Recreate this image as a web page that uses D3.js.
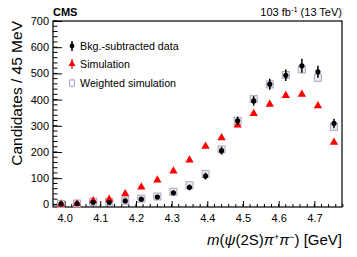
<!DOCTYPE html>
<html>
<head>
<meta charset="utf-8">
<script src="https://cdn.jsdelivr.net/npm/d3@7"></script>
<style>
  body { margin: 0; background: #fff; }
  svg { font-family: "Liberation Sans", Arial, sans-serif; }
</style>
</head>
<body>
<svg id="chart" width="357" height="257"></svg>
<script>
// --- data ---
const massBins = [3.99, 4.035, 4.08, 4.125, 4.17, 4.215, 4.26, 4.305, 4.35, 4.395, 4.44, 4.485, 4.53, 4.575, 4.62, 4.665, 4.71, 4.755];
const dataValues = [2, 3, 8, 8, 13, 20, 28, 44, 65, 108, 205, 319, 395, 459, 493, 529, 506, 309];
const dataErrors = [4, 4, 5, 5, 6, 7, 8, 9, 11, 13, 15, 16, 18, 21, 22, 27, 23, 18];
const simValues = [0, 2, 14, 19, 40, 66, 93, 127, 169, 222, 254, 303, 347, 382, 415, 420, 376, 237];
const weightedValues = [2, 3, 10, 10, 14, 22, 30, 48, 73, 116, 210, 319, 402, 458, 494, 515, 483, 296];
const xTicks = [4.0, 4.1, 4.2, 4.3, 4.4, 4.5, 4.6, 4.7];
const yTicks = [0, 100, 200, 300, 400, 500, 600, 700];
const legendLabels = ["Bkg.-subtracted data", "Simulation", "Weighted simulation"];

const svg = d3.select("#chart");
const frame = { left: 53, right: 342, top: 21, bottom: 207 };

const x = d3.scaleLinear().domain([3.9675, 4.7775]).range([frame.left, frame.right]);
const y = d3.scaleLinear().domain([-10, 700]).range([frame.bottom, frame.top]);

// minor ticks
const xMinor = d3.range(3.98, 4.78, 0.02);
const yMinor = d3.range(0, 701, 20);

const g = svg.append("g");

// bottom axis (ticks pointing inward)
const xAxis = g.append("g").attr("transform", `translate(0,${frame.bottom})`);
xAxis.selectAll("line.minor").data(xMinor).join("line")
  .attr("x1", d => x(d)).attr("x2", d => x(d))
  .attr("y1", 0).attr("y2", -3)
  .attr("stroke", "#000").attr("stroke-width", 1);
xAxis.call(d3.axisBottom(x).tickValues(xTicks).tickSizeInner(-6).tickSizeOuter(0).tickFormat(d3.format(".1f")))
  .call(a => a.select(".domain").remove())
  .call(a => a.selectAll("text").attr("y", 7).attr("dy", "0.71em")
    .attr("font-size", 11).attr("font-family", "Liberation Sans, Arial, sans-serif").attr("fill", "#000"));

// left axis
const yAxis = g.append("g").attr("transform", `translate(${frame.left},0)`);
yAxis.selectAll("line.minor").data(yMinor).join("line")
  .attr("x1", 0).attr("x2", 4.5)
  .attr("y1", d => y(d)).attr("y2", d => y(d))
  .attr("stroke", "#000").attr("stroke-width", 1);
yAxis.call(d3.axisLeft(y).tickValues(yTicks).tickSizeInner(-9).tickSizeOuter(0))
  .call(a => a.select(".domain").remove())
  .call(a => a.selectAll("text").attr("x", -4)
    .attr("font-size", 11).attr("font-family", "Liberation Sans, Arial, sans-serif").attr("fill", "#000"));

// frame
g.append("rect")
  .attr("x", frame.left).attr("y", frame.top)
  .attr("width", frame.right - frame.left).attr("height", frame.bottom - frame.top)
  .attr("fill", "none").attr("stroke", "#000").attr("stroke-width", 1.2);

const tri = d3.symbol().type(d3.symbolTriangle).size(30);

// weighted simulation squares
g.selectAll("rect.wsim").data(weightedValues).join("rect")
  .attr("x", (d, i) => x(massBins[i]) - 3.5).attr("y", d => y(d) - 3.5)
  .attr("width", 7).attr("height", 7)
  .attr("fill", "#ececf4").attr("stroke", "#a8a8c4").attr("stroke-width", 1);

// simulation triangles
g.selectAll("path.sim").data(simValues).join("path")
  .attr("d", tri)
  .attr("transform", (d, i) => `translate(${x(massBins[i])},${y(d)})`)
  .attr("fill", "#f00");

// data points with error bars
g.selectAll("line.err").data(dataValues).join("line")
  .attr("x1", (d, i) => x(massBins[i])).attr("x2", (d, i) => x(massBins[i]))
  .attr("y1", (d, i) => y(d - dataErrors[i])).attr("y2", (d, i) => y(d + dataErrors[i]))
  .attr("stroke", "#000").attr("stroke-width", 1.5);
g.selectAll("circle.dat").data(dataValues).join("circle")
  .attr("cx", (d, i) => x(massBins[i])).attr("cy", d => y(d))
  .attr("r", 2.6).attr("fill", "#000");

// legend
const legend = svg.append("g").attr("font-size", 10.7);
const rows = [46, 64, 83];
const lx = 72;
legend.append("line").attr("x1", lx).attr("x2", lx).attr("y1", rows[0] - 5).attr("y2", rows[0] + 5)
  .attr("stroke", "#000").attr("stroke-width", 1.5);
legend.append("circle").attr("cx", lx).attr("cy", rows[0]).attr("r", 2.4).attr("fill", "#000");
legend.append("line").attr("x1", lx).attr("x2", lx).attr("y1", rows[1] - 5).attr("y2", rows[1] + 5)
  .attr("stroke", "#f00").attr("stroke-width", 1.2);
legend.append("path").attr("d", d3.symbol().type(d3.symbolTriangle).size(22))
  .attr("transform", `translate(${lx},${rows[1]})`).attr("fill", "#f00");
legend.append("line").attr("x1", lx).attr("x2", lx).attr("y1", rows[2] - 5).attr("y2", rows[2] + 5)
  .attr("stroke", "#b8b8d4").attr("stroke-width", 1);
legend.append("rect").attr("x", lx - 2.5).attr("y", rows[2] - 3).attr("width", 5).attr("height", 6)
  .attr("fill", "#fff").attr("stroke", "#a8a8c4").attr("stroke-width", 1);
legend.selectAll("text").data(legendLabels).join("text")
  .attr("x", 80).attr("y", (d, i) => rows[i]).attr("dy", "0.35em")
  .text(d => d);

// titles
svg.append("text").attr("x", 53).attr("y", 16)
  .attr("font-size", 11).attr("font-weight", "bold").text("CMS");
const lumi = svg.append("text").attr("x", 342).attr("y", 16).attr("text-anchor", "end").attr("font-size", 11);
lumi.append("tspan").text("103 fb");
lumi.append("tspan").attr("dy", -4).attr("font-size", 7.5).text("-1");
lumi.append("tspan").attr("dy", 4).text(" (13 TeV)");

svg.append("text")
  .attr("transform", `translate(22,${frame.top}) rotate(-90)`)
  .attr("text-anchor", "end").attr("font-size", 15.5)
  .text("Candidates / 45 MeV");

const xt = svg.append("text").attr("x", 342).attr("y", 245).attr("text-anchor", "end").attr("font-size", 15);
xt.append("tspan").attr("font-style", "italic").text("m");
xt.append("tspan").text("(");
xt.append("tspan").attr("font-style", "italic").text("ψ");
xt.append("tspan").text("(2S)");
xt.append("tspan").attr("font-style", "italic").text("π");
xt.append("tspan").attr("dy", -5).attr("font-size", 9).text("+");
xt.append("tspan").attr("dy", 5).attr("font-style", "italic").text("π");
xt.append("tspan").attr("dy", -5).attr("font-size", 9).text("−");
xt.append("tspan").attr("dy", 5).text(") [GeV]");
</script>
</body>
</html>
